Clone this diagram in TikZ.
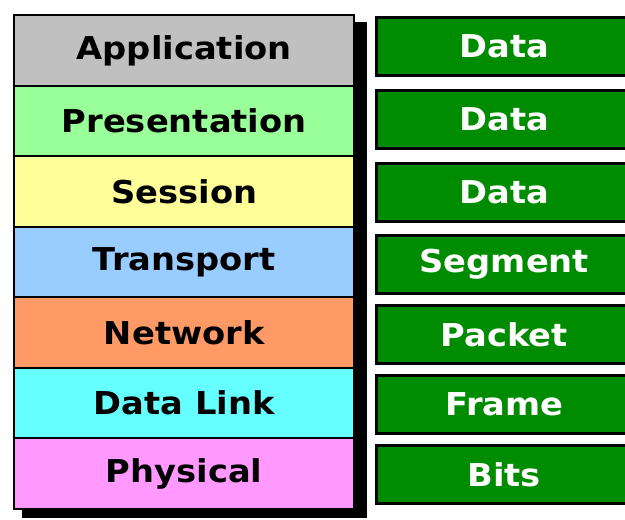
\documentclass[tikz,border=0pt]{standalone}
\usepackage{fontspec}
\setmainfont{DejaVu Sans}
\newcommand{\wide}[1]{\scalebox{1.07}[1]{#1}}
\begin{document}
\begin{tikzpicture}[x=1pt,y=-1pt,
  layer/.style={draw=black,line width=2.4pt,minimum width=340pt,minimum height=70.5pt,inner sep=0pt,anchor=north west,font=\bfseries\fontsize{31.5}{34}\selectfont,text=black},
  pdu/.style={draw=black,line width=2.6pt,fill=pdugreen,minimum width=265pt,minimum height=58pt,inner sep=0pt,anchor=north west,font=\bfseries\fontsize{31.5}{34}\selectfont,text=white}]
\definecolor{pdugreen}{HTML}{008C00}
\useasboundingbox (0,0) rectangle (625,520);
\fill[black] (22,22) rectangle (367,518);
\node[layer,fill={rgb,255:red,192;green,192;blue,192}] (app) at (13,14) {\wide{Application}};
\node[layer,fill={rgb,255:red,153;green,255;blue,153}] (pres) at (13,84.5) {\wide{Presentation}};
\node[layer,fill={rgb,255:red,255;green,255;blue,153}] (sess) at (13,155) {\wide{Session}};
\node[layer,fill={rgb,255:red,153;green,204;blue,255}] (trans) at (13,225.5) {\wide{Transport}};
\node[layer,fill={rgb,255:red,255;green,153;blue,102}] (net) at (13,296) {\wide{Network}};
\node[layer,fill={rgb,255:red,102;green,255;blue,255}] (dl) at (13,366.5) {\wide{Data Link}};
\node[layer,fill={rgb,255:red,255;green,153;blue,255}] (phys) at (13,437) {\wide{Physical}};
\begin{scope}
\clip (0,0) rectangle (625,520);
\node[pdu] (d1) at (375,16) {\hspace*{-9pt}\wide{Data}};
\node[pdu] (d2) at (375,89) {\hspace*{-9pt}\wide{Data}};
\node[pdu] (d3) at (375,162) {\hspace*{-9pt}\wide{Data}};
\node[pdu] (seg) at (375,234) {\hspace*{-9pt}\wide{Segment}};
\node[pdu] (pkt) at (375,304) {\hspace*{-9pt}\wide{Packet}};
\node[pdu] (frm) at (375,374) {\hspace*{-9pt}\wide{Frame}};
\node[pdu] (bits) at (375,444) {\hspace*{-9pt}\wide{Bits}};
\end{scope}
\end{tikzpicture}
\end{document}
